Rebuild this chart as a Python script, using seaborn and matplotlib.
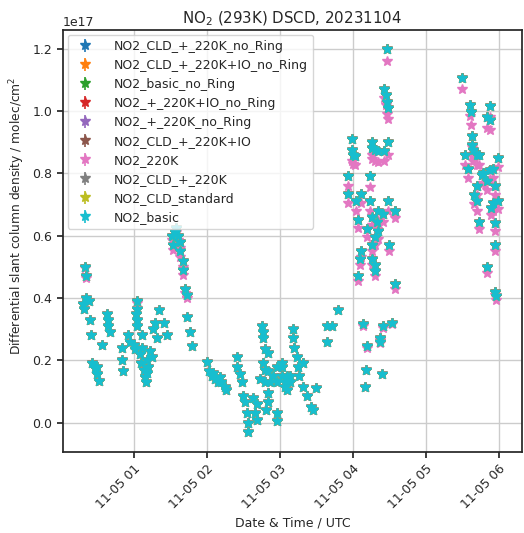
import pandas as pd
import seaborn as sns
import matplotlib.pyplot as plt
import matplotlib.dates as mdates

# ==================== data (DSCD in units of 1e17 molec/cm2) ====================
obs_date = "2023-11-05"

obs_time = [
    "00:18", "00:19", "00:20", "00:21", "00:21", "00:23", "00:24", "00:25", "00:26", "00:28",
    "00:30", "00:30", "00:31", "00:34", "00:38", "00:39", "00:39", "00:40", "00:50", "00:50",
    "00:51", "00:55", "00:57", "01:00", "01:01", "01:02", "01:03", "01:03", "01:03", "01:03",
    "01:05", "01:06", "01:07", "01:07", "01:08", "01:09", "01:10", "01:11", "01:11", "01:12",
    "01:13", "01:15", "01:16", "01:17", "01:19", "01:21", "01:25", "01:27",
    # peak
    "01:31", "01:32", "01:34", "01:35", "01:36", "01:38", "01:38", "01:40", "01:40", "01:42",
    "01:44", "01:44", "01:46", "01:48",
    # 02-03 UTC
    "02:00", "02:02", "02:04", "02:05", "02:07", "02:09", "02:11", "02:12", "02:15", "02:16",
    "02:25", "02:25", "02:27", "02:29", "02:30", "02:31", "02:33", "02:34", "02:34", "02:38",
    "02:40", "02:41", "02:41", "02:44", "02:45", "02:46", "02:46", "02:46", "02:48", "02:48",
    "02:48", "02:49", "02:50", "02:50", "02:50", "02:50", "02:52", "02:54", "02:58", "02:58",
    "02:58", "02:58", "03:02", "03:02", "03:02", "03:04", "03:04", "03:06", "03:06", "03:08",
    "03:08", "03:11", "03:11", "03:12", "03:14", "03:15", "03:16", "03:19", "03:19", "03:22",
    "03:26", "03:27", "03:30", "03:39", "03:39", "03:43", "03:48",
    # 04 UTC
    "03:56", "03:56", "03:59", "03:59", "04:00", "04:02", "04:03", "04:04", "04:04", "04:06",
    "04:07", "04:07", "04:08", "04:10", "04:11", "04:12", "04:12", "04:14", "04:14", "04:16",
    "04:16", "04:16", "04:16", "04:16", "04:18", "04:18", "04:18", "04:18", "04:20", "04:21",
    "04:21", "04:21", "04:22", "04:22", "04:24", "04:25", "04:25", "04:26", "04:26", "04:27",
    "04:28", "04:28", "04:29", "04:29", "04:29", "04:30", "04:32", "04:35", "04:35",
    # 05-06 UTC
    "05:30", "05:32", "05:35", "05:36", "05:37", "05:38", "05:38", "05:39", "05:40", "05:42",
    "05:42", "05:42", "05:44", "05:44", "05:46", "05:47", "05:50", "05:50", "05:50", "05:53",
    "05:53", "05:53", "05:54", "05:55", "05:55", "05:57", "05:57", "05:57", "05:57", "05:58",
    "05:59", "05:59",
]

no2_basic = [
    0.38, 0.365, 0.50, 0.47, 0.40, 0.39, 0.33, 0.28, 0.19, 0.175,
    0.18, 0.155, 0.135, 0.25, 0.35, 0.33, 0.31, 0.29, 0.24, 0.20,
    0.165, 0.28, 0.26, 0.25, 0.235, 0.35, 0.39, 0.365, 0.33, 0.31,
    0.22, 0.19, 0.28, 0.24, 0.17, 0.145, 0.13, 0.20, 0.16, 0.18,
    0.23, 0.21, 0.30, 0.32, 0.27, 0.36, 0.32, 0.28,
    0.60, 0.57, 0.61, 0.625, 0.60, 0.58, 0.55, 0.52, 0.49, 0.43,
    0.41, 0.34, 0.29, 0.245,
    0.195, 0.165, 0.15, 0.16, 0.14, 0.13, 0.145, 0.13, 0.115, 0.105,
    0.21, 0.18, 0.155, 0.13, 0.085, 0.065, 0.03, 0.0, -0.03, 0.08,
    0.03, 0.06, 0.01, 0.14, 0.31, 0.29, 0.27, 0.19, 0.235, 0.17,
    0.13, 0.04, 0.225, 0.165, 0.095, 0.065, 0.13, 0.15, 0.18, 0.13,
    0.03, 0.005, 0.19, 0.18, 0.15, 0.13, 0.115, 0.105, 0.15, 0.15,
    0.13, 0.30, 0.27, 0.24, 0.21, 0.18, 0.15, 0.19, 0.115, 0.085,
    0.05, 0.04, 0.11, 0.31, 0.26, 0.31, 0.36,
    0.79, 0.735, 0.91, 0.875, 0.86, 0.855, 0.71, 0.65, 0.47, 0.525,
    0.735, 0.55, 0.315, 0.115, 0.17, 0.245, 0.62, 0.79, 0.71, 0.90,
    0.88, 0.66, 0.57, 0.525, 0.875, 0.595, 0.505, 0.485, 0.645, 0.87,
    0.68, 0.615, 0.27, 0.26, 0.155, 0.67, 0.31, 0.87, 1.07, 1.05,
    1.20, 1.03, 1.01, 0.90, 0.71, 0.57, 0.32, 0.68, 0.445,
    1.105, 0.86, 0.815, 1.02, 0.995, 0.92, 0.89, 0.875, 0.73, 0.86,
    0.76, 0.71, 0.86, 0.645, 0.795, 0.80, 0.98, 0.775, 0.50, 1.015,
    0.97, 0.81, 0.69, 0.815, 0.705, 0.76, 0.64, 0.57, 0.42, 0.405,
    0.85, 0.71,
]

no2_220k = [
    0.38, 0.365, 0.495, 0.465, 0.40, 0.39, 0.33, 0.28, 0.19, 0.175,
    0.18, 0.155, 0.135, 0.25, 0.35, 0.33, 0.31, 0.29, 0.24, 0.20,
    0.165, 0.28, 0.26, 0.25, 0.235, 0.35, 0.385, 0.365, 0.33, 0.31,
    0.22, 0.19, 0.28, 0.24, 0.17, 0.145, 0.13, 0.20, 0.16, 0.18,
    0.23, 0.21, 0.30, 0.32, 0.27, 0.36, 0.32, 0.28,
    0.585, 0.555, 0.595, 0.61, 0.585, 0.56, 0.53, 0.50, 0.475, 0.415,
    0.40, 0.34, 0.29, 0.245,
    0.195, 0.165, 0.15, 0.16, 0.14, 0.13, 0.145, 0.13, 0.115, 0.105,
    0.21, 0.18, 0.155, 0.13, 0.085, 0.065, 0.03, 0.0, -0.03, 0.08,
    0.03, 0.06, 0.01, 0.14, 0.31, 0.29, 0.27, 0.19, 0.235, 0.17,
    0.13, 0.04, 0.225, 0.165, 0.095, 0.065, 0.13, 0.15, 0.18, 0.13,
    0.03, 0.005, 0.19, 0.18, 0.15, 0.13, 0.115, 0.105, 0.15, 0.15,
    0.13, 0.30, 0.27, 0.24, 0.21, 0.18, 0.15, 0.19, 0.115, 0.085,
    0.05, 0.04, 0.11, 0.31, 0.26, 0.31, 0.36,
    0.76, 0.705, 0.875, 0.84, 0.83, 0.825, 0.68, 0.625, 0.455, 0.505,
    0.705, 0.53, 0.31, 0.115, 0.17, 0.24, 0.595, 0.755, 0.68, 0.86,
    0.845, 0.635, 0.55, 0.505, 0.84, 0.57, 0.485, 0.47, 0.62, 0.835,
    0.65, 0.59, 0.265, 0.255, 0.155, 0.645, 0.305, 0.84, 1.04, 1.02,
    1.16, 0.99, 0.975, 0.86, 0.68, 0.55, 0.315, 0.655, 0.43,
    1.07, 0.825, 0.785, 0.985, 0.955, 0.885, 0.855, 0.84, 0.70, 0.825,
    0.73, 0.68, 0.825, 0.62, 0.765, 0.77, 0.945, 0.745, 0.48, 0.98,
    0.94, 0.78, 0.665, 0.785, 0.68, 0.73, 0.615, 0.55, 0.41, 0.395,
    0.82, 0.685,
]

# the other fits lie on top of NO2_basic within the marker size
series_labels = [
    "NO2_CLD_+_220K_no_Ring", "NO2_CLD_+_220K+IO_no_Ring", "NO2_basic_no_Ring",
    "NO2_+_220K+IO_no_Ring", "NO2_+_220K_no_Ring", "NO2_CLD_+_220K+IO",
    "NO2_220K", "NO2_CLD_+_220K", "NO2_CLD_standard", "NO2_basic",
]
series_values = [
    no2_basic, no2_basic, no2_basic,
    no2_basic, no2_basic, no2_basic,
    no2_220k, no2_basic, no2_basic, no2_basic,
]
dscd_err = 0.008  # fit error, 1e17 molec/cm2


# ==================== plot ====================
sns.set_theme(style="ticks", palette="tab10")
plt.rcParams["font.family"] = ["DejaVu Sans"]

fig = plt.figure(figsize=(5.24, 5.33), dpi=100)
ax = fig.add_axes([0.120, 0.152, 0.876, 0.792])

times = pd.to_datetime([f"{obs_date} {t}" for t in obs_time])
colors = sns.color_palette("tab10", len(series_labels))

for label, vals, col in zip(series_labels, series_values, colors):
    y = pd.Series(vals) * 1e17
    ax.errorbar(times, y, yerr=dscd_err * 1e17, fmt="*", color=col,
                markersize=7, elinewidth=1.2, label=label)

ax.set_xlim(pd.Timestamp(f"{obs_date} 00:01:40"), pd.Timestamp(f"{obs_date} 06:19"))
ax.set_ylim(-0.094e17, 1.26e17)
ax.set_yticks([0, 0.2e17, 0.4e17, 0.6e17, 0.8e17, 1.0e17, 1.2e17])
ax.xaxis.set_major_locator(mdates.HourLocator())
ax.xaxis.set_major_formatter(mdates.DateFormatter("%m-%d %H"))
plt.setp(ax.get_xticklabels(), rotation=45, ha="right", rotation_mode="anchor")
ax.tick_params(labelsize=9, length=4)
ax.yaxis.get_offset_text().set_fontsize(9)
ax.grid(True, color="0.8", linewidth=1)

ax.set_title("NO$_2$ (293K) DSCD, 20231104", fontsize=10.8, pad=5)
ax.set_xlabel("Date & Time / UTC", fontsize=9)
ax.set_ylabel("Differential slant column density / molec/cm$^2$", fontsize=8.8)
ax.yaxis.set_label_coords(-0.078, 0.56)
ax.legend(loc="upper left", fontsize=9, labelspacing=0.48, handletextpad=1.3,
          borderaxespad=0.4)

fig.savefig("out.png", dpi=100)
